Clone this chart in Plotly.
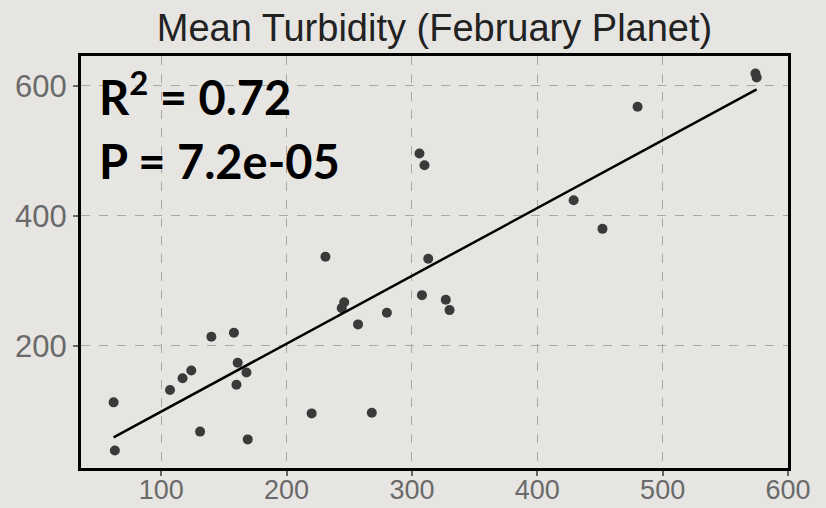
import numpy as np
import plotly.graph_objects as go

# Data
turbidity_x = [62, 63, 107, 117, 124, 131, 140, 158, 161, 160, 168, 169, 220, 231,
               246, 244, 257, 268, 280, 308, 313, 306, 310, 327, 330, 480, 429, 452, 574, 575]
turbidity_y = [113, 39, 132, 150, 162, 68, 214, 220, 174, 140, 159, 56, 96, 337,
               267, 258, 233, 97, 251, 278, 334, 496, 478, 271, 255, 568, 424, 380, 619, 613]
x_ticks = [100, 200, 300, 400, 500, 600]
y_ticks = [200, 400, 600]
title_text = "Mean Turbidity (February Planet)"
r2_text = "R<sup>2</sup> = 0.72"
p_text = "P = 7.2e-05"

x = np.array(turbidity_x, dtype=float)
y = np.array(turbidity_y, dtype=float)
slope, intercept = np.polyfit(x, y, 1)
line_x = np.array([x.min(), x.max()])
line_y = slope * line_x + intercept

bg = "#e7e5e2"
fig = go.Figure()
fig.add_trace(go.Scatter(x=turbidity_x, y=turbidity_y, mode="markers",
                         marker=dict(color="#3a3a3a", size=10), showlegend=False))
fig.add_trace(go.Scatter(x=line_x, y=line_y, mode="lines",
                         line=dict(color="black", width=2.5), showlegend=False))

fig.add_annotation(xref="paper", yref="paper", x=0.022, y=0.908, xanchor="left", yanchor="middle",
                   text=r2_text, showarrow=False,
                   font=dict(family="Lato", size=47, color="black", weight="bold"))
fig.add_annotation(xref="paper", yref="paper", x=0.022, y=0.745, xanchor="left", yanchor="middle",
                   text=p_text, showarrow=False,
                   font=dict(family="Lato", size=47, color="black", weight="bold"))

axis_common = dict(showline=True, linecolor="black", linewidth=3, mirror=True,
                   showgrid=True, gridcolor="#a8a8a8", griddash="dash", gridwidth=1.2,
                   zeroline=False, ticks="outside", ticklen=5, tickcolor="#666666", tickwidth=1.5,
                   automargin=False)
fig.update_xaxes(range=[36, 600], tickvals=x_ticks, ticklabelstandoff=-9,
                 tickfont=dict(family="Liberation Sans", size=27, color="#6a6a6a"), **axis_common)
fig.update_yaxes(range=[12, 646], tickvals=y_ticks,
                 tickfont=dict(family="Liberation Sans", size=31, color="#6a6a6a"), **axis_common)

fig.update_layout(
    width=826, height=508,
    margin=dict(l=81, r=38, t=56, b=40),
    paper_bgcolor=bg, plot_bgcolor=bg,
    title=dict(text=title_text, x=0.526, xanchor="center", y=0.945, yanchor="middle",
               font=dict(family="Liberation Sans", size=38, color="#222222")),
)
fig.write_html("out.html")
